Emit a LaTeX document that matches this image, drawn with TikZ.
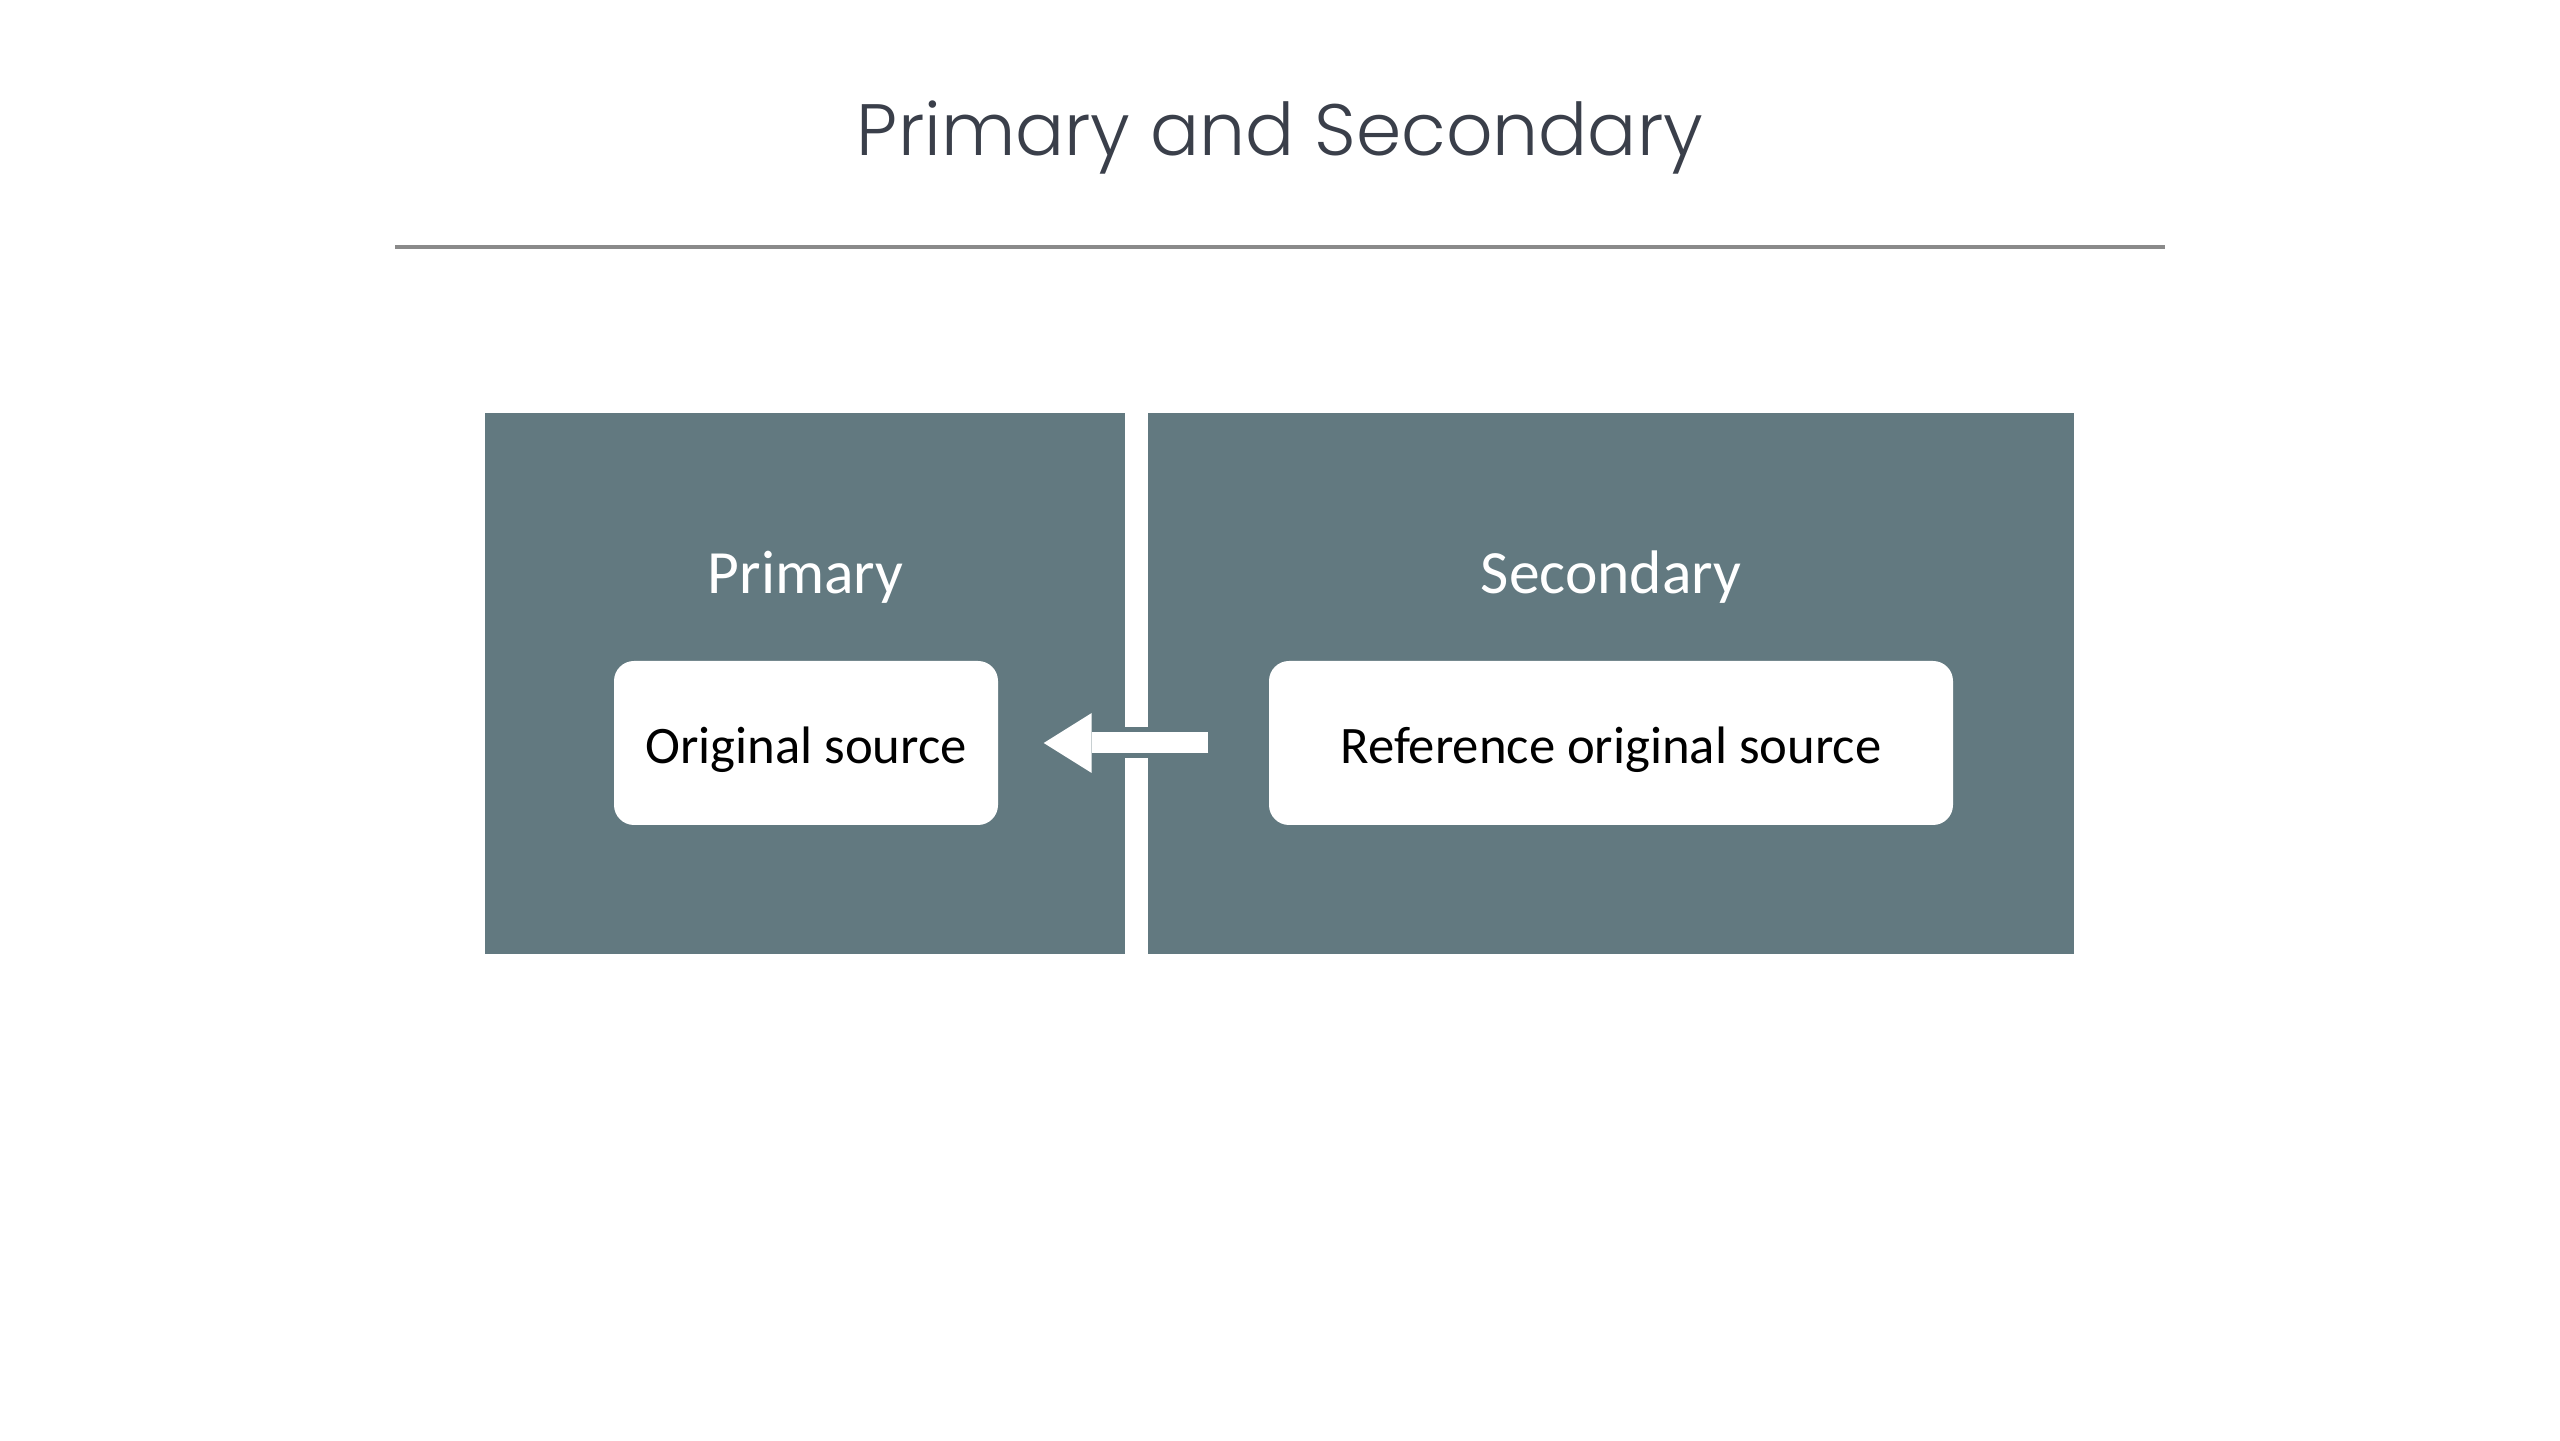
\documentclass[tikz,border=0pt]{standalone}
\usepackage{fontspec}
\setmainfont{Carlito}
\newfontfamily\titlefont{Poppins}[UprightFont=* Light]
\usepackage{tikz}
\usetikzlibrary{positioning,calc,arrows.meta}
\definecolor{m_slate}{HTML}{627980}
\definecolor{m_title}{HTML}{3A3F4A}
\definecolor{m_rule}{HTML}{8A8A8A}

\begin{document}
\begin{tikzpicture}[
        x=1cm, y=1cm,
        panel/.style={fill=m_slate,draw=none,inner sep=0pt,minimum height=5.41cm},
        srcbox/.style={fill=white,draw=none,rounded corners=0.2cm,inner sep=0pt,
            minimum height=1.64cm,text height=0.42cm,text depth=0pt,
            font=\fontsize{15}{18}\selectfont},
        heading/.style={text=white,anchor=base,inner sep=0pt,font=\fontsize{17.5}{21}\selectfont},
        flow/.style={line width=0.21cm,white,
            -{Triangle[length=0.48cm,width=0.60cm,line width=0pt]}}
    ]
        \useasboundingbox[fill=white] (0,0) rectangle (25.6,14.4);

        % title and rule
        \node[anchor=base,inner sep=0pt,text=m_title,font=\titlefont\fontsize{20.7}{25}\selectfont]
            (title) at (12.8,12.84) {Primary and Secondary};
        \coordinate (ruleL) at (3.95,11.93);
        \coordinate (ruleR) at (21.65,11.93);
        \draw[m_rule,line width=1pt] (ruleL) -- (ruleR);

        % panels
        \node[panel,minimum width=6.40cm] (P) at (8.05,7.565) {};
        \node[panel,minimum width=9.26cm] (S) at (16.11,7.565) {};

        \node[heading] (Ph) at (8.055,8.46) {Primary};
        \node[heading] (Sh) at (16.11,8.46) {Secondary};

        \node[srcbox,minimum width=3.84cm] (orig) at (8.06,6.97) {Original source};
        \node[srcbox,minimum width=6.84cm] (ref) at (16.11,6.97) {Reference original source};

        % arrow with slate outline over the gap
        \draw[line width=0.31cm,m_slate,shorten <=0.55cm,shorten >=0.39cm,
            -{Triangle[length=0.57cm,width=0.74cm,line width=0pt]}] (ref) -- (orig);
        \draw[flow,shorten <=0.60cm,shorten >=0.45cm] (ref) -- (orig);
    \end{tikzpicture}
\end{document}
